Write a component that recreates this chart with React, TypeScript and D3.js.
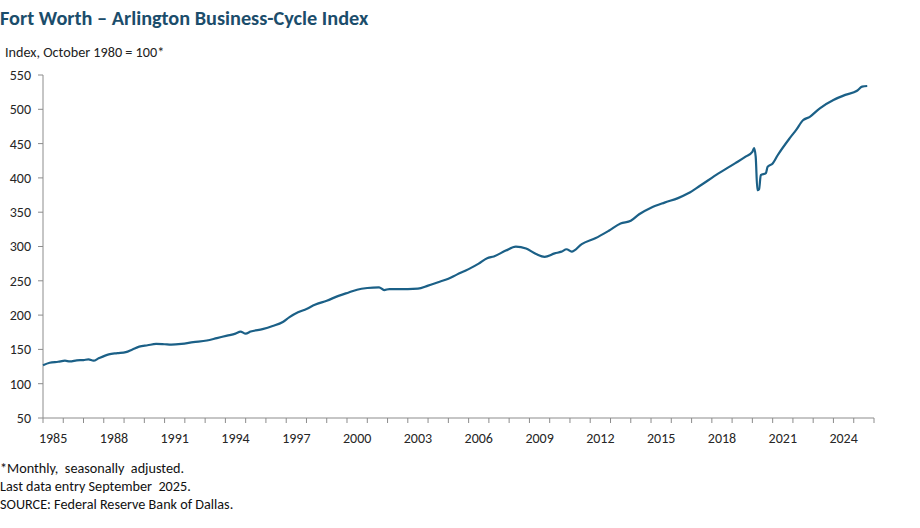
import React from "react";
import * as d3 from "d3";

const dates: string[] = [
  "1985-01","1985-05","1985-10","1986-02","1986-05","1986-09","1987-01","1987-04","1987-07","1987-10",
  "1988-04","1988-09","1989-02","1989-06","1989-10","1990-03","1990-08","1991-01","1991-05","1991-11",
  "1992-06","1993-02","1993-08","1994-02","1994-07","1994-10","1995-01","1995-04","1995-11","1996-05",
  "1996-11","1997-03","1997-08","1998-01","1998-06","1999-01","1999-08","2000-02","2000-07","2001-01",
  "2001-08","2001-11","2002-02","2003-01","2003-07","2004-01","2004-07","2005-01","2005-06","2006-01",
  "2006-07","2006-12","2007-04","2007-11","2008-05","2008-11","2009-05","2009-10","2010-04","2010-08",
  "2010-11","2011-02","2011-08","2012-04","2012-12","2013-07","2014-01","2014-06","2015-01","2015-09",
  "2016-05","2016-11","2017-06","2018-05","2019-03","2019-09","2020-01","2020-02","2020-03","2020-04",
  "2020-05","2020-06","2020-09","2020-10","2021-01","2021-04","2021-11","2022-03","2022-07","2022-11",
  "2023-05","2024-01","2024-08","2025-03","2025-06","2025-09"
];
const values: number[] = [
  127,130.5,132,133.5,132.5,134,134.5,135.5,133.5,137,
  142.8,144.5,146,150,154,156,158,157.5,157,158,
  160.5,163,166.5,170,173,176,173,176,179.5,184,
  190,197,204,209,215,221,228,233,237,239.5,
  240.5,236.5,238,238,238.5,243,248,253,259,267,
  275,283,285.5,294,299.8,297,289,285,290,292.5,
  296,292.5,303.5,312,323,333.5,337.5,347,356.5,364,
  370.5,377.5,388.5,406.5,421.5,431,438,443.5,431,382,
  383.5,404,407,416,421,433,457.5,470,484,489,
  501.5,513.5,521,527,533,534
];
const yTicks: number[] = [50,100,150,200,250,300,350,400,450,500,550];
const firstYear = 1985;
const lastYear = 2025;
const labelEvery = 3;

const title = "Fort Worth \u2013 Arlington Business-Cycle Index";
const subtitle = "Index, October 1980 = 100*";
const notes: string[] = [
  "*Monthly,  seasonally  adjusted.",
  "Last data entry September  2025.",
  "SOURCE: Federal Reserve Bank of Dallas."
];

export default function App() {
  const W = 920, H = 528;
  const left = 43, right = 874, top = 75, bottom = 418;
  const parse = d3.timeParse("%Y-%m");
  const data = dates.map((d, i) => ({ date: parse(d) as Date, v: values[i] }));
  const x = d3.scaleTime()
    .domain([new Date(firstYear, 0, 1), new Date(lastYear + 1, 0, 1)])
    .range([left, right]);
  const y = d3.scaleLinear().domain([50, 550]).range([bottom, top]);
  const line = d3.line<{ date: Date; v: number }>()
    .x(d => x(d.date))
    .y(d => y(d.v))
    .curve(d3.curveMonotoneX);
  const years = d3.range(firstYear, lastYear + 2);
  const font = "Calibri, Carlito, Lato, 'Liberation Sans', sans-serif";
  const axisColor = "#8c8c8c";
  return (
    <svg width={W} height={H} style={{ position: "absolute", left: 0, top: 0, background: "#fff", whiteSpace: "pre" }} fontFamily={font}>
      <text x={0} y={25} fontSize={20.3} fontWeight="bold" fill="#1b4d6b">{title}</text>
      <text x={5} y={57} fontSize={14.2} fill="#222">{subtitle}</text>
      {/* y axis */}
      <line x1={left} x2={left} y1={top} y2={bottom} stroke={axisColor} strokeWidth={1} />
      {yTicks.map(t => (
        <g key={t}>
          <line x1={left - 5} x2={left} y1={y(t)} y2={y(t)} stroke={axisColor} />
          <text x={31} y={y(t)} dy="0.35em" textAnchor="end" fontSize={14} fill="#262626">{t}</text>
        </g>
      ))}
      {/* x axis */}
      <line x1={left} x2={right} y1={bottom} y2={bottom} stroke={axisColor} />
      {years.map(yr => (
        <line key={yr} x1={x(new Date(yr, 0, 1))} x2={x(new Date(yr, 0, 1))} y1={bottom} y2={bottom + 5} stroke={axisColor} />
      ))}
      {years.filter(yr => yr <= lastYear && (yr - firstYear) % labelEvery === 0).map(yr => (
        <text key={yr} x={(x(new Date(yr, 0, 1)) + x(new Date(yr + 1, 0, 1))) / 2} y={443} textAnchor="middle" fontSize={14} fill="#262626">{yr}</text>
      ))}
      <path d={line(data) || ""} fill="none" stroke="#1b6087" strokeWidth={2.2} strokeLinejoin="round" />
      {notes.map((n, i) => (
        <text key={i} x={0} y={473 + i * 18} fontSize={14.2} fill="#111" style={{ whiteSpace: "pre" }}>{n}</text>
      ))}
    </svg>
  );
}
